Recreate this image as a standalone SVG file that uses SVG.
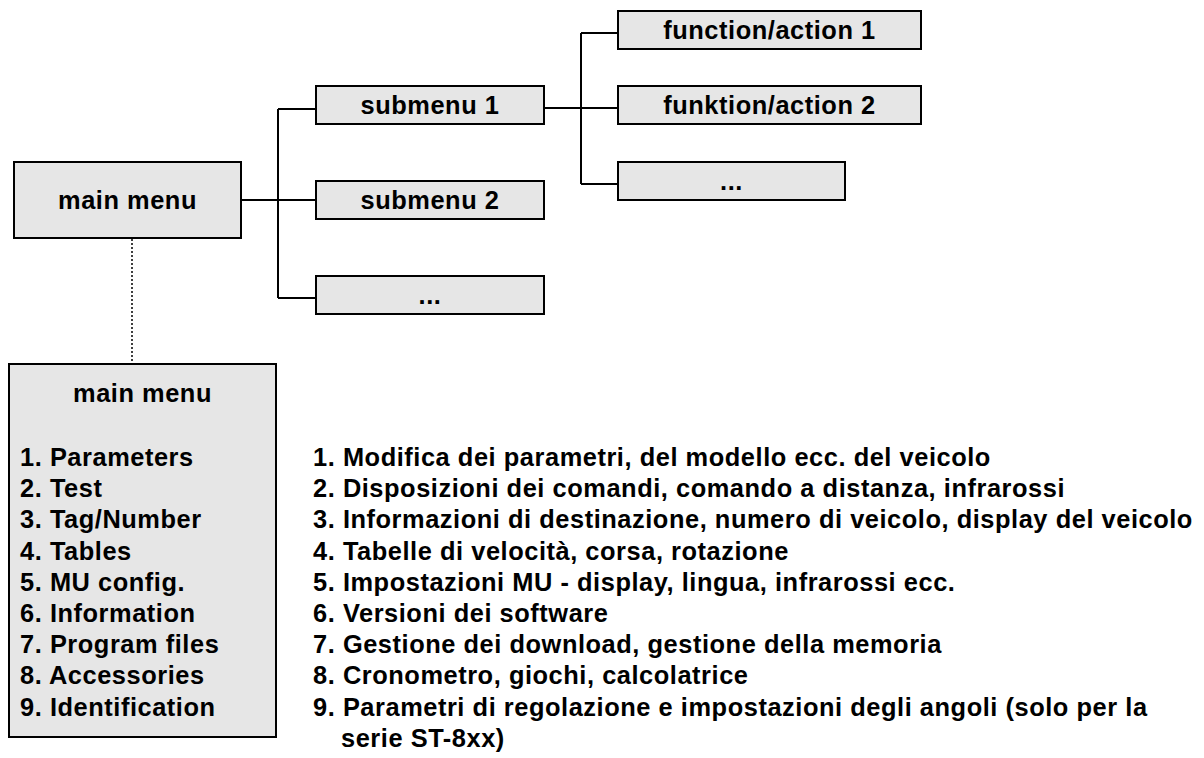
<svg xmlns="http://www.w3.org/2000/svg" width="1204" height="758" viewBox="0 0 1204 758">
<style>
.box{fill:#e6e6e6;stroke:#000;stroke-width:2}
.t{font-family:"Liberation Sans",Arial,sans-serif;font-weight:bold;font-size:25.4px;fill:#000;letter-spacing:0.55px}
.c{text-anchor:middle}
.ln{fill:none;stroke:#000;stroke-width:2}
.dot{fill:none;stroke:#000;stroke-width:1.5;stroke-dasharray:2 2}
</style>
<rect width="1204" height="758" fill="#fff"/>
<g id="connectors">
<path class="ln" d="M241 200H316M278 109V298M278 109H316M278 298H316"/>
<path class="ln" d="M544 108H618M581 33V184M581 33H618M581 184H618"/>
<path class="dot" d="M132 239V364"/>
</g>
<g id="main-menu"><rect class="box" x="14" y="162" width="227" height="76"/><text class="t c" x="127.5" y="209">main menu</text></g>
<g id="submenu-1"><rect class="box" x="316" y="86" width="228" height="38"/><text class="t c" x="430" y="114">submenu 1</text></g>
<g id="submenu-2"><rect class="box" x="316" y="181" width="228" height="38"/><text class="t c" x="430" y="209">submenu 2</text></g>
<g id="submenu-more"><rect class="box" x="316" y="276" width="228" height="38"/><text class="t c" x="430" y="304">...</text></g>
<g id="function-1"><rect class="box" x="618" y="11" width="303" height="38"/><text class="t c" x="769.5" y="39">function/action 1</text></g>
<g id="function-2"><rect class="box" x="618" y="86" width="303" height="38"/><text class="t c" x="769.5" y="114">funktion/action 2</text></g>
<g id="function-more"><rect class="box" x="618" y="162" width="227" height="38"/><text class="t c" x="731.5" y="190">...</text></g>
<g id="main-menu-list"><rect class="box" x="9" y="364" width="267" height="373"/>
<text class="t c" x="142.5" y="402">main menu</text>
<text class="t" x="20" y="466">1. Parameters</text>
<text class="t" x="20" y="497.2">2. Test</text>
<text class="t" x="20" y="528.4">3. Tag/Number</text>
<text class="t" x="20" y="559.6">4. Tables</text>
<text class="t" x="20" y="590.8">5. MU config.</text>
<text class="t" x="20" y="622">6. Information</text>
<text class="t" x="20" y="653.2">7. Program files</text>
<text class="t" x="20" y="684.4">8. Accessories</text>
<text class="t" x="20" y="715.6">9. Identification</text>
</g>
<g id="descriptions">
<text class="t" x="313" y="466">1. Modifica dei parametri, del modello ecc. del veicolo</text>
<text class="t" x="313" y="497.2">2. Disposizioni dei comandi, comando a distanza, infrarossi</text>
<text class="t" x="313" y="528.4">3. Informazioni di destinazione, numero di veicolo, display del veicolo</text>
<text class="t" x="313" y="559.6">4. Tabelle di velocità, corsa, rotazione</text>
<text class="t" x="313" y="590.8">5. Impostazioni MU - display, lingua, infrarossi ecc.</text>
<text class="t" x="313" y="622">6. Versioni dei software</text>
<text class="t" x="313" y="653.2">7. Gestione dei download, gestione della memoria</text>
<text class="t" x="313" y="684.4">8. Cronometro, giochi, calcolatrice</text>
<text class="t" x="313" y="715.6">9. Parametri di regolazione e impostazioni degli angoli (solo per la</text>
<text class="t" x="341" y="746.8">serie ST-8xx)</text>
</g>
</svg>
